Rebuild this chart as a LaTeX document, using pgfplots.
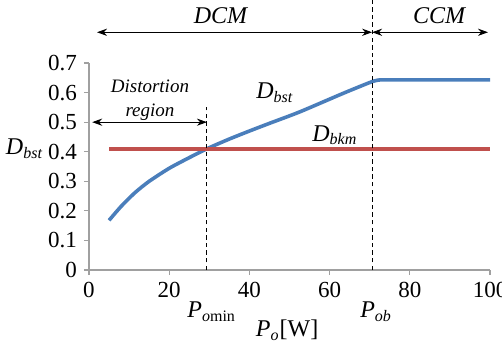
\documentclass[border=0pt]{standalone}
\usepackage{fontspec}
\setmainfont{Liberation Serif}
\usepackage{pgfplots}
\pgfplotsset{compat=1.18}
\usetikzlibrary{arrows.meta}
\definecolor{cblue}{HTML}{4A7EBB}
\definecolor{cred}{HTML}{C0504D}
\definecolor{cgray}{HTML}{A0A0A0}
\begin{document}
\begin{tikzpicture}
\useasboundingbox (-44.5pt,-39.5pt) rectangle (206.5pt,135pt);
\begin{axis}[
  at={(0,0)}, anchor=south west,
  scale only axis, width=200.5pt, height=103.5pt,
  xmin=0, xmax=100, ymin=0, ymax=0.7,
  axis lines=left, axis line style={-, cgray, line width=0.6pt},
  tick align=outside, tick style={cgray, line width=0.6pt},
  major tick length=2.5pt,
  xtick={0,20,40,60,80,100},
  ytick={0,0.1,0.2,0.3,0.4,0.5,0.6,0.7},
  /pgf/number format/assume math mode=true,
  yticklabel style={/pgf/number format/fixed, /pgf/number format/precision=1, font=\fontsize{11.5}{13}\selectfont},
  xticklabel style={font=\fontsize{11.5}{13}\selectfont},
  clip=false,
]
% data curves
\addplot[cblue, line width=1.8pt, line join=round, smooth, tension=0.4] coordinates {
 (5,0.168) (8,0.215) (11.5,0.262) (15,0.300) (20,0.344) (25,0.380) (29.4,0.410)
 (35,0.443) (40,0.470) (45,0.496) (52.6,0.535) (63.3,0.597) (70,0.634) (72,0.642) (75,0.643) (100,0.643)};
\addplot[cred, line width=1.8pt] coordinates {(5,0.409) (100,0.409)};
% dashed lines
\addplot[black, line width=0.5pt, dash pattern=on 2.2pt off 1.6pt] coordinates {(29.4,0) (29.4,0.55)};
\addplot[black, line width=0.5pt, dash pattern=on 2.2pt off 1.6pt] coordinates {(70.6,0) (70.6,0.912)};
% arrows
\addplot[black, line width=0.5pt, {Stealth[length=5pt,width=3.6pt]}-{Stealth[length=5pt,width=3.6pt]}] coordinates {(2,0.804) (70.6,0.804)};
\addplot[black, line width=0.5pt, {Stealth[length=5pt,width=3.6pt]}-{Stealth[length=5pt,width=3.6pt]}] coordinates {(70.6,0.804) (99.5,0.804)};
\addplot[black, line width=0.5pt, {Stealth[length=5pt,width=3.6pt]}-{Stealth[length=5pt,width=3.6pt]}] coordinates {(0.8,0.50) (29.4,0.50)};
% labels
\node[font=\fontsize{12}{14}\selectfont\itshape] at (axis cs:32.8,0.861) {DCM};
\node[font=\fontsize{12}{14}\selectfont\itshape] at (axis cs:87.3,0.861) {CCM};
\node[font=\fontsize{9.5}{11}\selectfont\itshape, align=center] at (axis cs:15.2,0.574) {Distortion\\[1pt]region};
\node[font=\fontsize{12}{14}\selectfont] at (axis cs:46.4,0.60) {\textit{D}\textsubscript{\textit{bst}}};
\node[font=\fontsize{12}{14}\selectfont] at (axis cs:61.3,0.456) {\textit{D}\textsubscript{\textit{bkm}}};
\node[font=\fontsize{12}{14}\selectfont, anchor=east, inner sep=0pt] at (axis cs:-11.3,0.41) {\textit{D}\textsubscript{\textit{bst}}};
\node[font=\fontsize{12}{14}\selectfont] at (axis cs:30.6,-0.142) {\textit{P}\textsubscript{\textit{o}min}};
\node[font=\fontsize{12}{14}\selectfont] at (axis cs:71.6,-0.142) {\textit{P}\textsubscript{\textit{ob}}};
\node[font=\fontsize{12}{14}\selectfont] at (axis cs:49.4,-0.203) {\textit{P}\textsubscript{\textit{o}}[W]};
\end{axis}
\end{tikzpicture}
\end{document}
